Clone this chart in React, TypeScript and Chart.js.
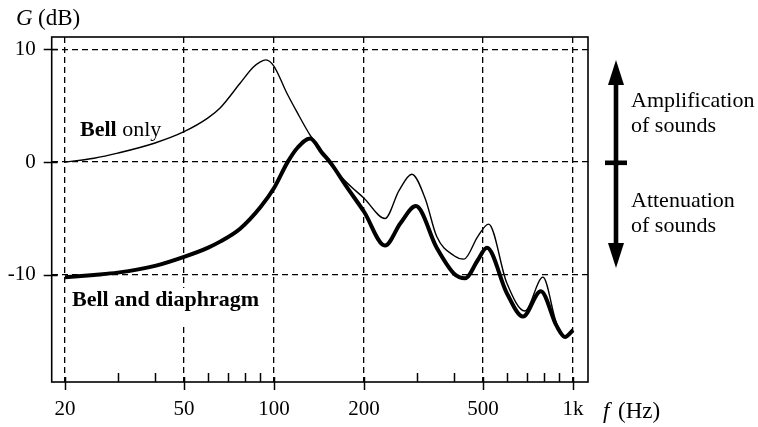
import React, { useEffect, useRef } from "react";
import { Chart, registerables } from "chart.js";

Chart.register(...registerables);

// ---- data ----
const bellOnlyFreq = [20, 25, 30, 40, 50, 60, 66, 77, 85, 90, 94, 100, 110, 119, 132, 140, 152, 175, 200, 235, 262, 289, 320, 350, 400, 432, 480, 522, 600, 690, 793, 880, 940, 1000];
const bellOnlyGain = [0, 0.35, 0.8, 1.7, 2.7, 3.9, 4.8, 7.0, 8.4, 8.9, 9.07, 8.5, 6.2, 4.5, 2.4, 1.5, 0.0, -1.8, -3.2, -5.0, -2.5, -1.07, -3.2, -6.6, -8.3, -8.6, -6.6, -5.5, -10.7, -13.2, -10.2, -14.3, -15.5, -14.9];

const bellDiaFreq = [20, 25, 30, 40, 50, 60, 66, 77, 90, 100, 111, 120, 132, 145, 154, 175, 200, 235, 265, 298, 350, 400, 436, 480, 515, 600, 680, 780, 880, 940, 1000];
const bellDiaGain = [-10.2, -10.0, -9.8, -9.2, -8.4, -7.6, -7.05, -5.9, -4.0, -2.3, 0, 1.3, 2.1, 0.8, 0, -2.2, -4.4, -7.4, -5.4, -3.9, -7.6, -9.9, -10.3, -8.7, -7.6, -11.6, -13.7, -11.45, -14.5, -15.5, -14.9];

const xMajorTicks = [20, 50, 100, 200, 500, 1000];
const xMinorTicks = [30, 40, 60, 70, 80, 90, 300, 400, 600, 700, 800, 900];
const xTickLabels: Record<number, string> = { 20: "20", 50: "50", 100: "100", 200: "200", 500: "500", 1000: "1k" };
const yTickValues = [-10, 0, 10];

const X_MIN = 18.05;
const X_MAX = 1122;
const Y_MIN = -19.5;
const Y_MAX = 11.1;

const SERIF = '"Liberation Serif", "Times New Roman", serif';

const annotationPlugin = {
  id: "annotations",
  afterDraw(chart: any) {
    const { ctx, chartArea, scales } = chart;
    const xs = scales.x;
    const ys = scales.y;
    ctx.save();
    ctx.fillStyle = "#000";
    ctx.strokeStyle = "#000";

    // plot frame
    ctx.lineWidth = 1.6;
    ctx.strokeRect(chartArea.left, chartArea.top, chartArea.right - chartArea.left, chartArea.bottom - chartArea.top);

    // x tick marks
    ctx.lineWidth = 1.5;
    for (const v of xMajorTicks) {
      const px = Math.round(xs.getPixelForValue(v)) + 0.5;
      ctx.beginPath();
      ctx.moveTo(px, chartArea.bottom - 5);
      ctx.lineTo(px, chartArea.bottom + 8);
      ctx.stroke();
    }
    for (const v of xMinorTicks) {
      const px = Math.round(xs.getPixelForValue(v)) + 0.5;
      ctx.beginPath();
      ctx.moveTo(px, chartArea.bottom - 9);
      ctx.lineTo(px, chartArea.bottom);
      ctx.stroke();
    }
    // y tick marks
    for (const v of yTickValues) {
      const py = Math.round(ys.getPixelForValue(v)) + 0.5;
      ctx.beginPath();
      ctx.moveTo(chartArea.left - 8, py);
      ctx.lineTo(chartArea.left + 6, py);
      ctx.stroke();
    }

    // axis titles
    ctx.textBaseline = "alphabetic";
    ctx.textAlign = "left";
    ctx.font = `italic 23px ${SERIF}`;
    ctx.fillText("G", 16, 25);
    ctx.font = `23px ${SERIF}`;
    ctx.fillText("(dB)", 38, 25);
    ctx.font = `italic 23px ${SERIF}`;
    ctx.fillText("f", 603, 418);
    ctx.font = `23px ${SERIF}`;
    ctx.fillText("(Hz)", 618, 418);

    // series labels
    ctx.font = `bold 22px ${SERIF}`;
    ctx.fillText("Bell", 80, 136);
    const bw = ctx.measureText("Bell").width;
    ctx.font = `22px ${SERIF}`;
    ctx.fillText(" only", 80 + bw, 136);

    ctx.font = `bold 22px ${SERIF}`;
    const lbl = "Bell and diaphragm";
    const lw = ctx.measureText(lbl).width;
    ctx.fillStyle = "#fff";
    ctx.fillRect(70, 288, lw + 4, 36);
    ctx.fillStyle = "#000";
    ctx.fillText(lbl, 72, 306);

    // right-side double arrow
    const ax = 616;
    ctx.fillRect(ax - 2.3, 80, 4.6, 168);
    ctx.beginPath();
    ctx.moveTo(ax, 60);
    ctx.lineTo(ax - 8, 85);
    ctx.lineTo(ax + 8, 85);
    ctx.closePath();
    ctx.fill();
    ctx.beginPath();
    ctx.moveTo(ax, 268);
    ctx.lineTo(ax - 8, 243);
    ctx.lineTo(ax + 8, 243);
    ctx.closePath();
    ctx.fill();
    ctx.fillRect(605, 160.5, 22, 4.6);

    ctx.font = `22px ${SERIF}`;
    ctx.fillText("Amplification", 631, 107);
    ctx.fillText("of sounds", 631, 132);
    ctx.fillText("Attenuation", 631, 207);
    ctx.fillText("of sounds", 631, 232);

    ctx.restore();
  },
};

export default function App() {
  const canvasRef = useRef<HTMLCanvasElement | null>(null);

  useEffect(() => {
    document.body.style.margin = "0";
    document.body.style.background = "#fff";
    const canvas = canvasRef.current;
    if (!canvas) return;

    const bellOnly = bellOnlyFreq.map((f, i) => ({ x: f, y: bellOnlyGain[i] }));
    const bellDia = bellDiaFreq.map((f, i) => ({ x: f, y: bellDiaGain[i] }));

    const chart = new Chart(canvas, {
      type: "line",
      data: {
        datasets: [
          {
            label: "Bell and diaphragm",
            data: bellDia,
            borderColor: "#000",
            borderWidth: 4,
            pointRadius: 0,
            cubicInterpolationMode: "monotone",
            fill: false,
          },
          {
            label: "Bell only",
            data: bellOnly,
            borderColor: "#000",
            borderWidth: 1.4,
            pointRadius: 0,
            cubicInterpolationMode: "monotone",
            fill: false,
          },
        ],
      },
      options: {
        responsive: false,
        animation: false,
        devicePixelRatio: 1,
        layout: { padding: { left: 0, top: 37, right: 170, bottom: 0 } },
        plugins: {
          legend: { display: false },
          tooltip: { enabled: false },
        },
        scales: {
          x: {
            type: "logarithmic",
            min: X_MIN,
            max: X_MAX,
            position: "bottom",
            afterBuildTicks: (scale: any) => {
              scale.ticks = [...xMajorTicks, ...xMinorTicks]
                .sort((a, b) => a - b)
                .map((v) => ({ value: v }));
            },
            afterFit: (scale: any) => {
              scale.height = 45;
            },
            grid: {
              drawTicks: false,
              color: "#000",
              lineWidth: (c: any) => (c.tick && xMajorTicks.includes(c.tick.value) ? 1.3 : 0),
            },
            border: { display: false, dash: [6, 4] },
            ticks: {
              autoSkip: false,
              maxRotation: 0,
              padding: 15,
              color: "#000",
              font: { family: SERIF, size: 21 },
              callback: (v: any) => xTickLabels[Number(v)] ?? "",
            },
          },
          y: {
            type: "linear",
            min: Y_MIN,
            max: Y_MAX,
            afterBuildTicks: (scale: any) => {
              scale.ticks = yTickValues.map((v) => ({ value: v }));
            },
            afterFit: (scale: any) => {
              scale.width = 51.7;
            },
            grid: { drawTicks: false, color: "#000", lineWidth: 1.3 },
            border: { display: false, dash: [6, 4] },
            ticks: {
              padding: 16,
              color: "#000",
              font: { family: SERIF, size: 21 },
              callback: (v: any) => String(v),
            },
          },
        },
      },
      plugins: [annotationPlugin],
    } as any);

    return () => chart.destroy();
  }, []);

  return (
    <div style={{ width: 758, height: 427, background: "#fff" }}>
      <canvas ref={canvasRef} width={758} height={427} style={{ display: "block" }} />
    </div>
  );
}
